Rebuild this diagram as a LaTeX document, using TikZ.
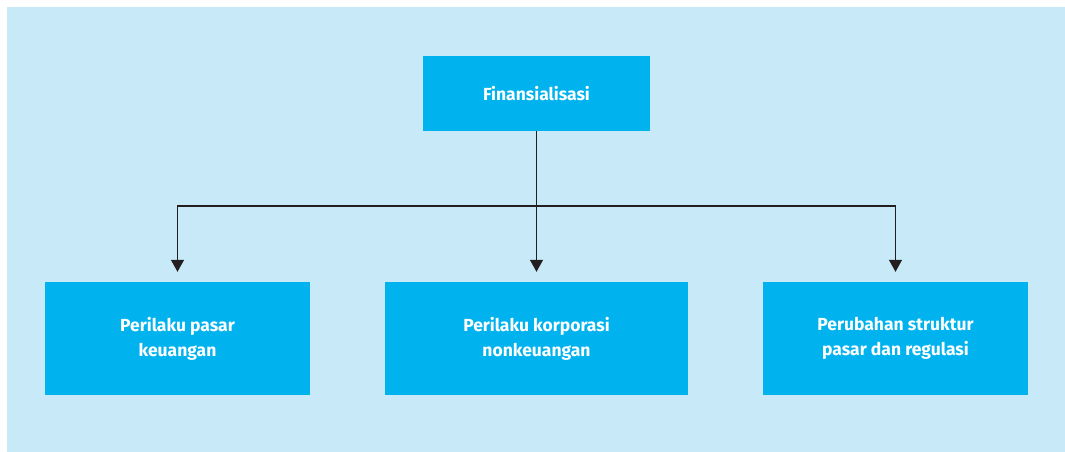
\documentclass[tikz,border=0pt]{standalone}
\usepackage{fontspec}
\setmainfont{Fira Sans}
\usetikzlibrary{arrows.meta}
\definecolor{bgblue}{HTML}{C7E9F8}
\definecolor{boxblue}{HTML}{00B3EE}
\definecolor{linec}{HTML}{231F20}
\begin{document}
\begin{tikzpicture}[x=1pt,y=-1pt,
  box/.style={fill=boxblue,draw=none,inner sep=0pt,text=white,align=center,
    font=\fontsize{17.5}{25}\selectfont\bfseries},
  conn/.style={draw=linec,line width=1.3pt},
  arr/.style={conn,-{Triangle[width=13pt,length=12pt]}}]
\useasboundingbox (0,0) rectangle (1065,452);
\fill[white] (0,0) rectangle (1065,452);
\fill[bgblue] (7,7) rectangle (1065,452);
\node[box,minimum width=227pt,minimum height=75pt] (top) at (536.5,93.5) {Finansialisasi};
\node[box,minimum width=265pt,minimum height=113pt] (b1) at (177.5,338.5) {Perilaku pasar\\keuangan};
\node[box,minimum width=303pt,minimum height=113pt] (b2) at (536.5,338.5) {Perilaku korporasi\\nonkeuangan};
\node[box,minimum width=265pt,minimum height=113pt] (b3) at (895.5,338.5) {Perubahan struktur\\pasar dan regulasi};
\coordinate (h) at (536.5,206);
\draw[arr] (top.south) -- ([yshift=10pt]b2.north);
\draw[arr] (h) -| ([yshift=10pt]b1.north);
\draw[arr] (h) -| ([yshift=10pt]b3.north);
\end{tikzpicture}
\end{document}
